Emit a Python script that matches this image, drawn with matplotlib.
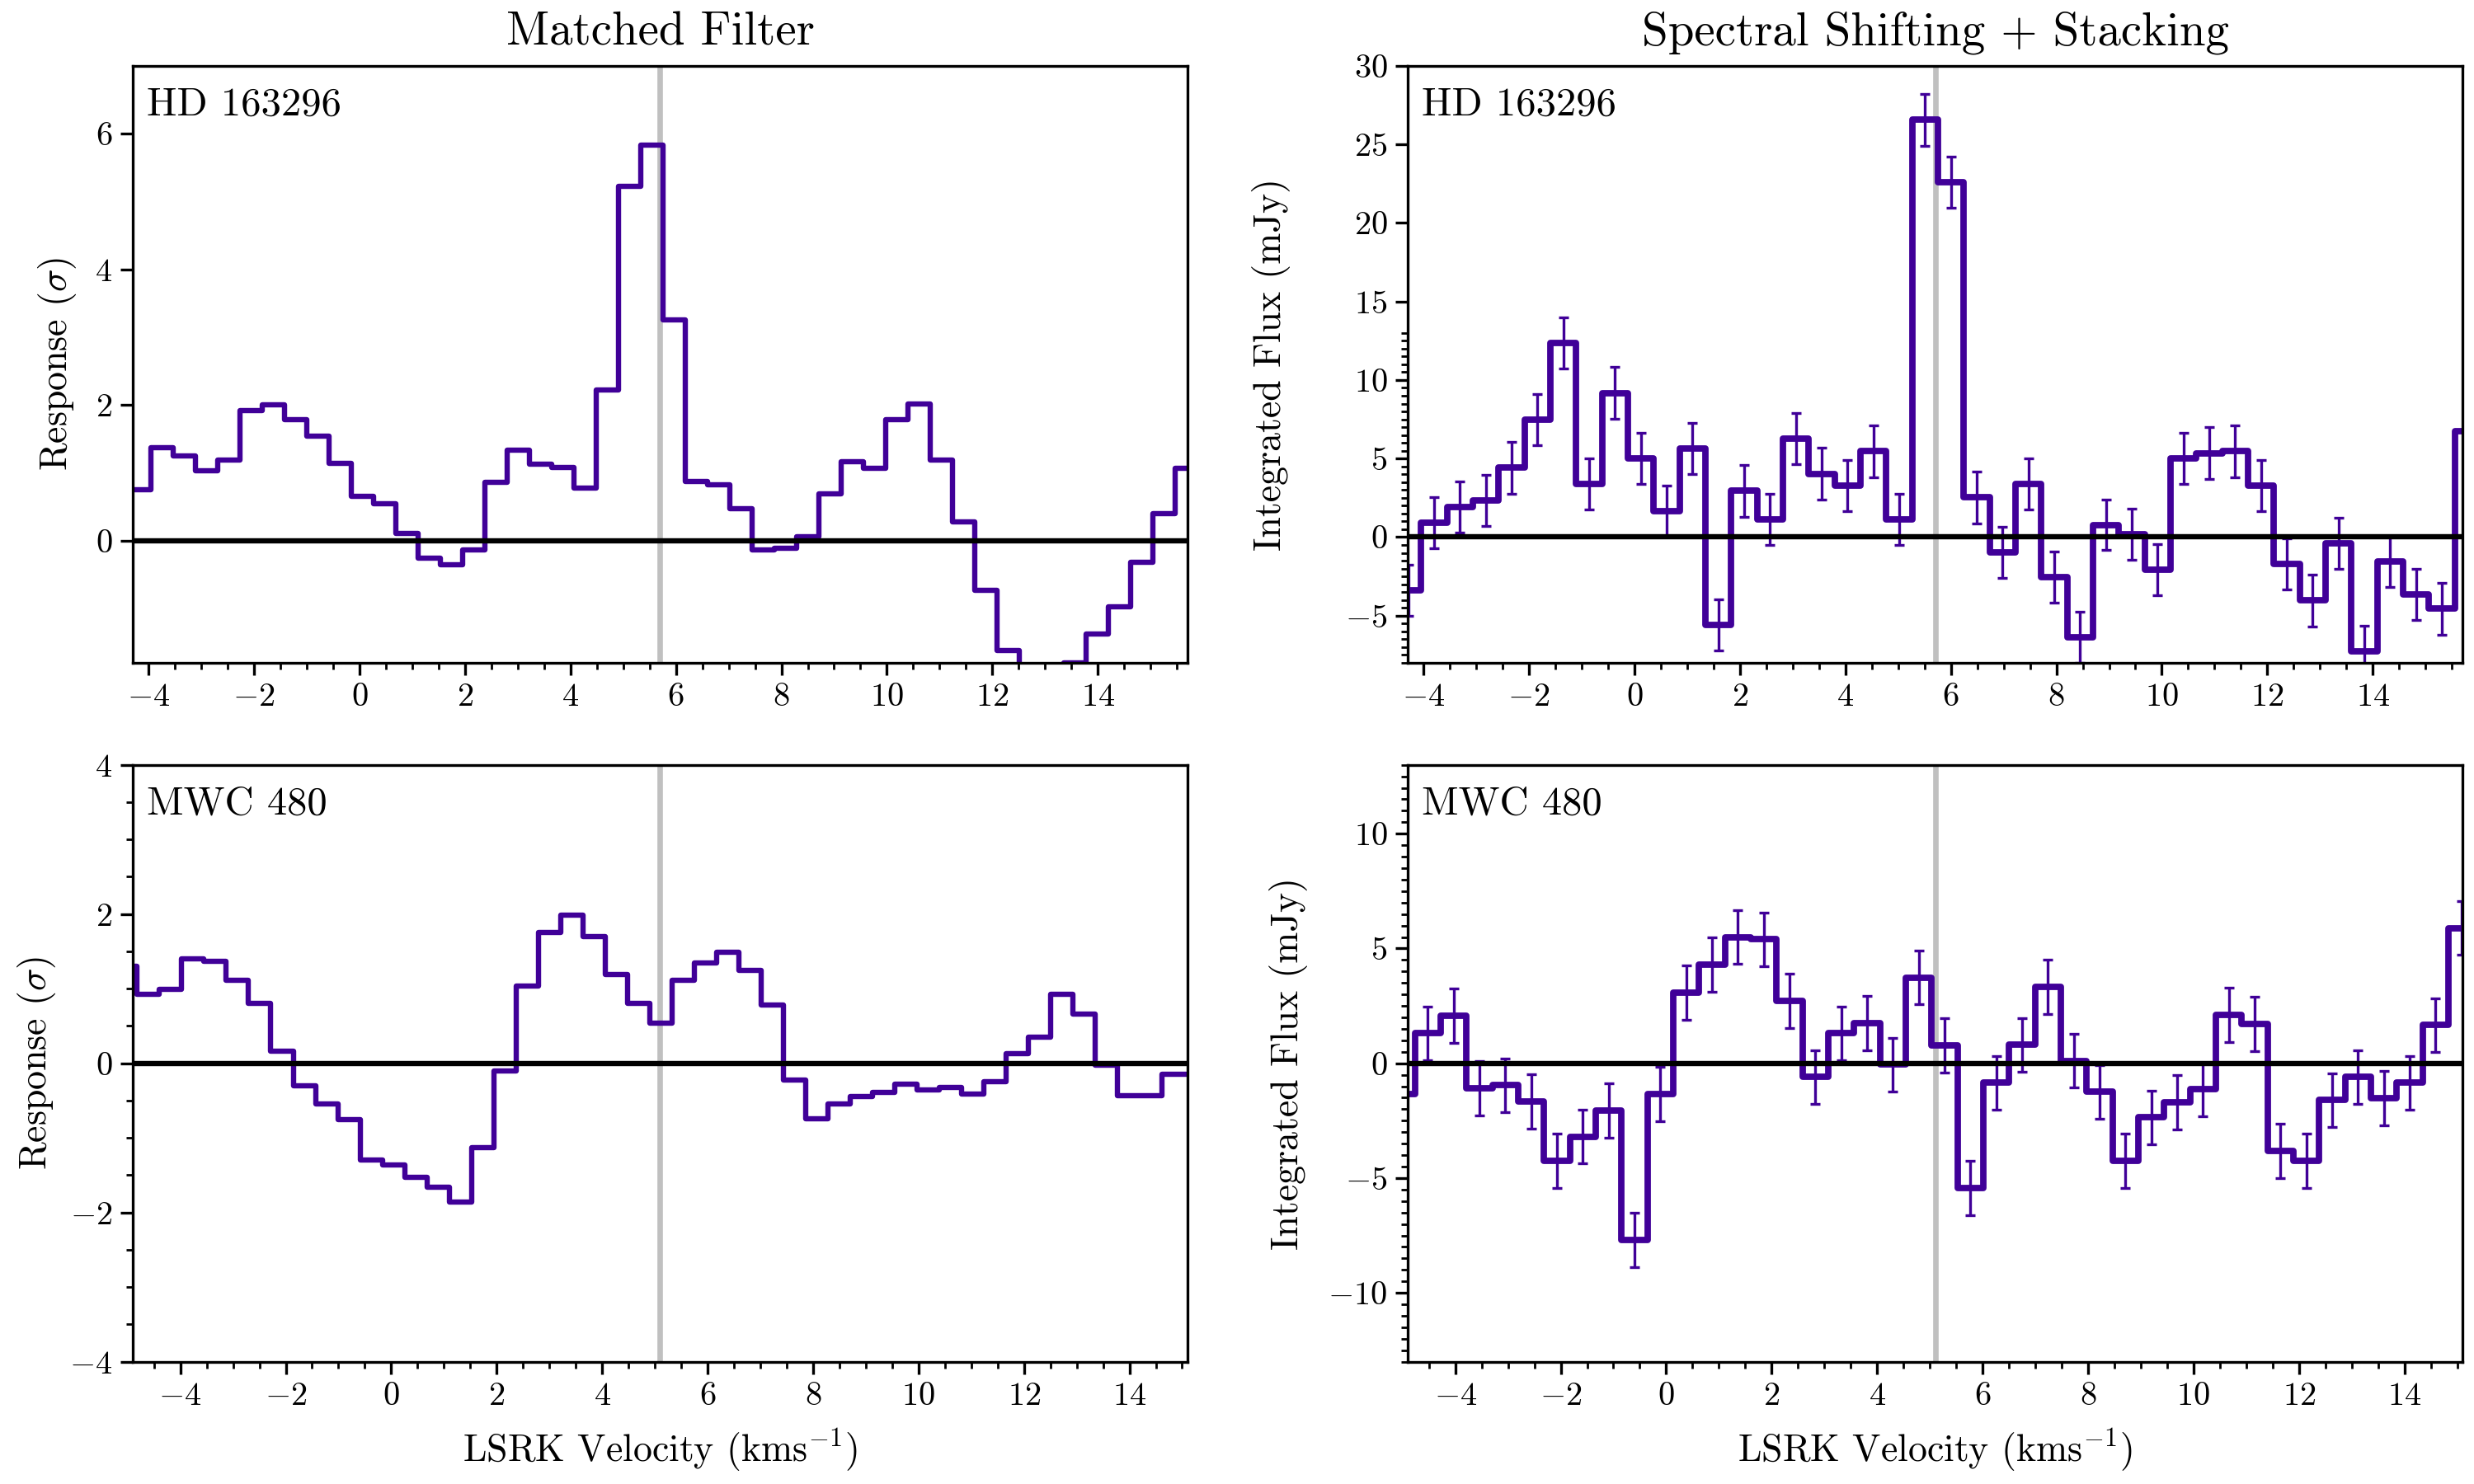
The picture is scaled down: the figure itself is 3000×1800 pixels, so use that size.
import matplotlib
matplotlib.use("Agg")
import matplotlib.pyplot as plt
import numpy as np
from matplotlib.ticker import MultipleLocator, FixedLocator

plt.rcParams.update({
    "font.family": "serif",
    "font.serif": ["cmr10"],
    "mathtext.fontset": "cm",
    "axes.formatter.use_mathtext": True,
    "axes.unicode_minus": True,
})

LINE = "#400098"
GREY = "#c0c0c0"

# ---- HD 163296 (systemic velocity 5.7 km/s) ----
hd_vsys = 5.7
hd_mf_v0, hd_mf_dv = -4.584, 0.4223
hd_mf = [0.75, 0.75, 1.37, 1.25, 1.03, 1.19, 1.92, 2.00, 1.79, 1.54,
         1.14, 0.66, 0.55, 0.11, -0.26, -0.36, -0.14, 0.86, 1.34, 1.13,
         1.08, 0.77, 2.22, 5.22, 5.83, 3.26, 0.87, 0.83, 0.47, -0.14,
         -0.11, 0.06, 0.69, 1.16, 1.07, 1.79, 2.02, 1.19, 0.28, -0.73,
         -1.62, -2.20, -2.00, -1.80, -1.38, -0.98, -0.32, 0.40, 1.07, 1.07]

hd_st_v0, hd_st_dv = -4.78, 0.49
hd_st = [-3.39, -3.39, 0.91, 1.90, 2.34, 4.43, 7.50, 12.37, 3.39, 9.17,
         5.03, 1.64, 5.65, -5.60, 2.94, 1.12, 6.25, 4.04, 3.26, 5.47,
         1.12, 26.56, 22.58, 2.53, -0.99, 3.39, -2.55, -6.38, 0.78, 0.18,
         -2.08, 5.03, 5.34, 5.47, 3.26, -1.69, -4.04, -0.39, -7.29, -1.56,
         -3.65, -4.56, 6.77]
hd_st_err = [1.62, 1.62, 1.63, 1.63, 1.62, 1.65, 1.63, 1.64, 1.62, 1.65,
             1.63, 1.63, 1.64, 1.64, 1.63, 1.62, 1.63, 1.64, 1.63, 1.64,
             1.63, 1.63, 1.63, 1.64, 1.63, 1.64, 1.63, 1.64, 1.62, 1.63,
             1.64, 1.63, 1.64, 1.64, 1.63, 1.63, 1.64, 1.63, 1.65, 1.63,
             1.64, 1.64, 1.63]

# ---- MWC 480 (systemic velocity 5.1 km/s) ----
mwc_vsys = 5.1
mwc_mf_v0, mwc_mf_dv = -5.029, 0.4226
mwc_mf = [1.30, 0.93, 0.99, 1.40, 1.37, 1.11, 0.80, 0.16, -0.30, -0.54,
          -0.75, -1.30, -1.36, -1.53, -1.66, -1.86, -1.13, -0.10, 1.04, 1.75,
          1.99, 1.70, 1.19, 0.80, 0.54, 1.11, 1.35, 1.49, 1.24, 0.78,
          -0.22, -0.74, -0.55, -0.45, -0.39, -0.28, -0.36, -0.32, -0.41, -0.25,
          0.13, 0.35, 0.93, 0.66, -0.02, -0.43, -0.43, -0.15, -0.15]

mwc_st_v0, mwc_st_dv = -5.01, 0.49
mwc_st = [-1.34, 1.31, 2.06, -1.08, -0.95, -1.66, -4.25, -3.19, -2.05, -7.69,
          -1.34, 3.07, 4.30, 5.50, 5.40, 2.72, -0.60, 1.31, 1.75, -0.05,
          3.74, 0.78, -5.43, -0.85, 0.81, 3.33, 0.11, -1.25, -4.25, -2.36,
          -1.69, -1.13, 2.10, 1.71, -3.81, -4.25, -1.60, -0.60, -1.52, -0.85,
          1.66, 5.89, 5.89]
mwc_st_err = [1.17, 1.16, 1.18, 1.18, 1.17, 1.18, 1.17, 1.17, 1.18, 1.18,
              1.17, 1.18, 1.17, 1.18, 1.17, 1.18, 1.17, 1.17, 1.18, 1.17,
              1.17, 1.17, 1.18, 1.18, 1.17, 1.18, 1.18, 1.17, 1.17, 1.17,
              1.18, 1.17, 1.18, 1.17, 1.18, 1.17, 1.17, 1.18, 1.18, 1.17,
              1.17, 1.17, 1.17]


def channels(v0, dv, n):
    return v0 + dv * np.arange(n)


fig, axes = plt.subplots(2, 2, figsize=(15, 9), dpi=200)
fig.subplots_adjust(left=0.0537, right=0.9953, top=0.9556, bottom=0.0824,
                    wspace=0.209, hspace=0.171)

panels = [
    (axes[0, 0], "HD 163296", hd_vsys, channels(hd_mf_v0, hd_mf_dv, len(hd_mf)), hd_mf, None),
    (axes[0, 1], "HD 163296", hd_vsys, channels(hd_st_v0, hd_st_dv, len(hd_st)), hd_st, hd_st_err),
    (axes[1, 0], "MWC 480", mwc_vsys, channels(mwc_mf_v0, mwc_mf_dv, len(mwc_mf)), mwc_mf, None),
    (axes[1, 1], "MWC 480", mwc_vsys, channels(mwc_st_v0, mwc_st_dv, len(mwc_st)), mwc_st, mwc_st_err),
]

for ax, name, vsys, v, y, err in panels:
    ax.axvline(vsys, color=GREY, lw=2.4, zorder=1)
    ax.step(v, y, where="mid", color=LINE, lw=2.8 if err else 2.3, zorder=2)
    if err:
        ax.errorbar(v, y, yerr=err, fmt="none", ecolor=LINE, elinewidth=1.2,
                    capsize=2.2, capthick=1.2, zorder=2)
    ax.axhline(0, color="black", lw=2.3, zorder=3)
    ax.set_xlim(vsys - 10, vsys + 10)
    ax.xaxis.set_major_locator(MultipleLocator(2))
    ax.xaxis.set_minor_locator(MultipleLocator(0.5))
    ax.text(0.013, 0.965, name, transform=ax.transAxes, ha="left", va="top",
            fontsize=17.5)
    ax.tick_params(which="major", direction="out", length=5.4, width=1.2,
                   labelsize=14.5)
    ax.tick_params(which="minor", direction="out", length=2.8, width=1.0)
    for sp in ax.spines.values():
        sp.set_linewidth(1.2)

# left column: matched filter response
axes[0, 0].set_ylim(-1.8, 7)
axes[0, 0].yaxis.set_major_locator(MultipleLocator(2))
axes[0, 0].yaxis.set_minor_locator(FixedLocator([]))
axes[1, 0].set_ylim(-4, 4)
axes[1, 0].yaxis.set_major_locator(MultipleLocator(2))
axes[1, 0].yaxis.set_minor_locator(MultipleLocator(0.5))
for ax in axes[:, 0]:
    ax.set_ylabel(r"Response ($\sigma$)", fontsize=16.5)

# right column: stacked spectra
axes[0, 1].set_ylim(-8, 30)
axes[1, 1].set_ylim(-13, 13)
for ax in axes[:, 1]:
    ax.yaxis.set_major_locator(MultipleLocator(5))
    ax.yaxis.set_minor_locator(FixedLocator(np.arange(-13, 13.5, 0.5)))
    ax.set_ylabel("Integrated Flux (mJy)", fontsize=16.5)

# y label placement as in the original figure
axes[0, 0].yaxis.set_label_coords(-0.052, 0.5)
axes[1, 0].yaxis.set_label_coords(-0.071, 0.5)
axes[0, 1].yaxis.set_label_coords(-0.111, 0.5)
axes[1, 1].yaxis.set_label_coords(-0.095, 0.5)

axes[0, 0].set_title("Matched Filter", fontsize=20.5, pad=9)
axes[0, 1].set_title("Spectral Shifting + Stacking", fontsize=20.5, pad=9)
for ax in axes[1, :]:
    ax.set_xlabel(r"LSRK Velocity (km$\mathregular{s}^{-1}$)", fontsize=16.5,
                  labelpad=6.5)

fig.savefig("out.png", dpi=200)
